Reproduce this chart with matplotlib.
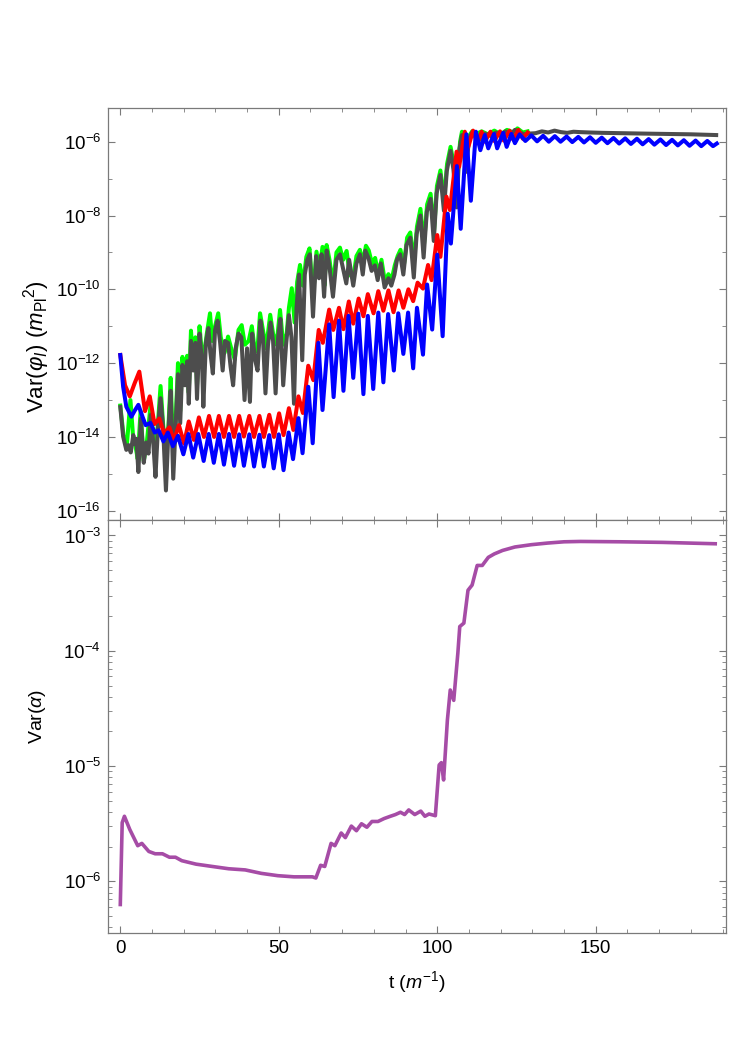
import numpy as np
import matplotlib
matplotlib.use("Agg")
from matplotlib import pyplot as plt, ticker as tick

plt.rcParams['font.family'] = ['Liberation Sans', 'DejaVu Sans']
plt.rcParams['mathtext.fontset'] = 'custom'
plt.rcParams['mathtext.rm'] = 'Liberation Sans'
plt.rcParams['mathtext.it'] = 'Liberation Sans:italic'
plt.rcParams['mathtext.bf'] = 'Liberation Sans:bold'

# values, stored as log10 of the variance
# --- top panel: Var(phi_I) ---
blue_t = [0, 0.9, 1.9, 3.5, 4.6, 5.7, 7.0, 8.0, 9.5, 10.9, 12.1, 13.6, 15.0, 16.6, 18.2, 19.9,
          21.5, 23.0, 24.6, 26.3, 27.9, 29.5, 31.1, 32.7, 34.3, 35.9, 37.5, 39.0, 40.7, 42.2,
          43.9, 45.3, 47.0, 48.4, 50.0, 51.5, 53.1, 54.5, 56.2, 57.5, 59.3, 60.7, 62.5, 63.8,
          65.9, 67.3, 69.0, 70.4, 72.0, 73.5, 75.1, 76.7, 78.1, 79.8, 81.4, 83.0, 84.5, 86.3,
          87.7, 89.3, 90.8, 92.4, 93.6, 95.5, 96.8, 98.4, 100.0, 101.7, 103.3, 104.3, 106.2,
          107.4, 109.2, 110.6, 112.2, 113.6, 115.0, 116.1, 117.9, 118.9, 120.8, 121.9, 123.4,
          124.5, 126.0, 127.8, 129.7, 131.5, 133.4, 135.2, 137.1, 138.9, 140.8, 142.6, 144.5,
          146.3, 148.2, 150.0, 151.9, 153.7, 155.6, 157.4, 159.3, 161.1, 163.0, 164.8, 166.7,
          168.5, 170.4, 172.2, 174.1, 175.9, 177.8, 179.6, 181.5, 183.3, 185.2, 187.0, 188.2]
blue_log = [-11.78, -12.64, -13.18, -13.45, -13.28, -13.13, -13.45, -13.68, -13.62, -13.88,
            -13.82, -14.12, -13.88, -14.25, -13.97, -14.47, -13.92, -14.56, -13.92, -14.65,
            -13.92, -14.70, -13.92, -14.75, -13.92, -14.78, -13.93, -14.78, -13.93, -14.80,
            -13.94, -14.80, -13.95, -14.85, -13.93, -14.90, -13.88, -14.60, -13.49, -14.44,
            -12.64, -14.17, -11.45, -13.27, -10.95, -12.92, -10.85, -12.75, -10.72, -12.40,
            -10.66, -12.84, -10.72, -12.70, -10.63, -12.52, -10.67, -12.20, -10.65, -11.75,
            -10.63, -12.14, -10.50, -11.77, -9.87, -11.09, -9.06, -11.27, -7.95, -8.76, -6.66,
            -8.36, -5.80, -7.60, -5.73, -6.23, -5.82, -6.18, -5.79, -6.18, -5.76, -6.14, -5.79,
            -6.04, -5.80, -5.98, -5.83, -5.99, -5.84, -6.00, -5.85, -6.00, -5.86, -6.01, -5.87,
            -6.02, -5.88, -6.03, -5.89, -6.04, -5.90, -6.05, -5.91, -6.06, -5.92, -6.07, -5.93,
            -6.08, -5.94, -6.09, -5.95, -6.10, -5.96, -6.11, -5.97, -6.12, -5.98, -6.12, -6.05]

red_t = [0, 1.5, 3.0, 4.5, 6.0, 7.8, 9.3, 10.8, 12.3, 13.8, 15.5, 16.9, 18.5, 20.1, 21.6, 23.2,
         24.8, 26.4, 28.0, 29.6, 31.1, 32.7, 34.3, 35.9, 37.5, 39.0, 40.7, 42.2, 43.9, 45.3,
         47.0, 48.5, 50.1, 51.5, 53.2, 54.6, 56.2, 57.6, 59.3, 60.9, 62.6, 63.9, 65.9, 67.2,
         69.0, 70.4, 72.1, 73.5, 75.2, 76.7, 78.1, 79.9, 81.4, 83.0, 84.6, 86.2, 87.8, 89.3,
         90.9, 92.4, 93.8, 95.5, 97.1, 98.2, 100.0, 101.0, 102.9, 104.0, 106.1, 106.9, 108.7,
         109.8, 111.3, 112.6, 114.0, 115.0, 116.8, 118.0, 119.8, 121.0, 122.8, 124.0, 125.6,
         127.0, 128.5]
red_log = [-11.78, -12.60, -12.90, -12.55, -12.23, -13.30, -12.90, -13.65, -13.50, -13.90,
           -13.74, -14.10, -13.68, -14.18, -13.58, -14.08, -13.47, -14.00, -13.43, -14.00,
           -13.43, -14.00, -13.43, -14.00, -13.43, -13.99, -13.43, -14.00, -13.43, -14.00,
           -13.40, -14.00, -13.36, -13.95, -13.22, -13.81, -12.90, -13.35, -12.07, -12.46,
           -11.10, -11.45, -10.55, -11.10, -10.50, -11.08, -10.33, -10.93, -10.25, -10.73,
           -10.13, -10.65, -10.05, -10.58, -10.03, -10.62, -10.03, -10.50, -10.00, -10.32,
           -9.82, -9.98, -9.34, -9.75, -8.53, -9.12, -7.49, -7.85, -6.27, -6.68, -5.73, -6.14,
           -5.70, -6.04, -5.73, -6.00, -5.73, -5.98, -5.72, -5.97, -5.70, -5.95, -5.68, -5.92,
           -5.75]

gray_t = [0, 0.9, 1.9, 2.6, 3.3, 4.1, 4.6, 5.1, 5.7, 6.5, 7.4, 8.2, 8.9, 9.6, 10.4, 11.1, 11.9,
          12.7, 13.5, 14.4, 15.2, 15.9, 16.7, 17.5, 18.2, 18.9, 19.6, 20.4, 21.1, 21.6, 22.3,
          23.0, 23.7, 24.2, 25.0, 25.8, 26.2, 27.0, 27.8, 28.4, 29.2, 29.9, 30.7, 31.5, 32.3,
          33.0, 34.0, 34.8, 35.6, 36.4, 37.3, 38.2, 39.2, 40.0, 40.9, 41.6, 42.5, 43.3, 44.2,
          45.0, 45.8, 46.6, 47.4, 48.2, 49.0, 49.8, 50.5, 51.4, 52.3, 53.2, 54.0, 54.8, 55.6,
          56.4, 57.4, 58.2, 59.0, 59.8, 60.8, 61.8, 62.7, 63.5, 64.3, 65.1, 66.0, 67.1, 68.2,
          69.3, 70.2, 71.3, 72.2, 73.5, 74.5, 75.6, 76.5, 77.3, 78.3, 79.3, 80.3, 81.2, 82.2,
          83.4, 84.6, 85.5, 86.5, 87.3, 88.3, 89.3, 90.3, 91.5, 92.6, 93.5, 94.7, 95.7, 96.7,
          97.9, 98.9, 99.8, 101.0, 102.1, 103.0, 104.2, 105.1, 106.1, 107.0, 107.8, 109.0,
          110.0, 111.0, 112.0, 113.5, 115.0, 117.0, 118.5, 120.0, 121.5, 123.0, 124.5, 126.0,
          127.5, 129.0, 131.0, 133.0, 135.0, 137.0, 139.0, 141.0, 143.0, 145.0, 148.0, 152.0,
          158.0, 165.0, 172.0, 180.0, 188.0]
gray_log = [-13.19, -13.99, -14.35, -14.22, -14.42, -13.95, -14.20, -14.05, -14.95, -13.50,
            -14.70, -14.15, -14.45, -13.40, -14.15, -15.08, -13.72, -12.95, -13.75, -15.45,
            -13.80, -12.75, -15.13, -13.60, -12.30, -13.63, -12.05, -12.60, -11.95, -13.10,
            -11.40, -12.20, -11.45, -12.97, -11.20, -12.00, -13.18, -11.45, -11.05, -11.70,
            -12.28, -11.10, -10.85, -11.45, -12.20, -11.40, -11.45, -12.10, -12.60, -11.60,
            -11.20, -11.30, -13.00, -11.60, -13.05, -11.20, -11.90, -12.20, -10.85, -11.30,
            -12.82, -11.50, -10.90, -11.40, -12.82, -11.30, -10.80, -12.60, -11.50, -10.70,
            -11.30, -13.10, -10.50, -9.60, -11.92, -9.60, -9.20, -9.05, -10.74, -9.10, -9.70,
            -9.05, -10.20, -8.95, -9.40, -10.20, -9.20, -9.05, -9.40, -9.84, -9.20, -9.90,
            -9.30, -9.05, -9.60, -8.95, -9.15, -9.50, -9.35, -9.75, -9.30, -9.95, -9.70, -9.90,
            -9.60, -9.20, -9.05, -9.60, -8.80, -8.60, -9.68, -8.50, -8.00, -9.14, -7.90, -7.55,
            -8.69, -7.40, -6.90, -7.87, -6.80, -6.25, -6.75, -7.78, -6.20, -5.82, -6.82, -5.95,
            -5.75, -5.80, -5.95, -5.78, -5.85, -5.75, -5.85, -5.72, -5.82, -5.68, -5.75, -5.80,
            -5.78, -5.77, -5.72, -5.75, -5.70, -5.74, -5.76, -5.73, -5.74, -5.75, -5.76, -5.77,
            -5.78, -5.79, -5.80, -5.82]

green_t = [0, 1.0, 2.0, 3.2, 4.0, 4.8, 5.5, 6.4, 7.4, 8.3, 9.6, 10.4, 11.1, 11.9, 12.7, 13.5,
           14.4, 15.2, 15.9, 16.7, 17.5, 18.2, 18.9, 19.6, 20.4, 21.1, 21.6, 22.3, 23.0, 23.7,
           24.2, 25.0, 25.8, 26.5, 27.3, 28.3, 29.0, 29.9, 30.9, 31.7, 32.9, 34.0, 35.0, 36.1,
           37.3, 38.3, 39.3, 40.5, 41.5, 42.5, 43.3, 44.1, 45.0, 46.0, 47.3, 48.2, 49.3, 50.4,
           51.4, 52.5, 53.2, 54.1, 55.0, 55.8, 56.7, 57.6, 58.7, 59.7, 60.8, 61.9, 62.8, 63.8,
           64.4, 65.1, 66.0, 67.1, 68.2, 69.3, 70.3, 71.4, 72.4, 73.5, 74.5, 75.6, 76.5, 77.5,
           78.4, 79.4, 80.4, 81.4, 82.4, 83.5, 84.6, 85.6, 86.6, 87.5, 88.4, 89.4, 90.5, 91.5,
           92.6, 93.6, 94.7, 95.8, 96.8, 97.9, 99.0, 99.9, 101.0, 102.1, 103.1, 104.2, 105.2,
           106.2, 107.2, 107.8, 109.0, 110.0, 111.0, 112.5, 114.0, 116.0, 118.0, 120.0, 122.0,
           124.0, 125.3, 127.0, 128.5]
green_log = [-13.15, -13.95, -14.30, -13.00, -13.95, -14.25, -14.60, -13.30, -14.65, -14.20,
             -13.10, -14.10, -14.40, -13.60, -12.62, -13.65, -14.50, -13.70, -12.40, -14.50,
             -13.50, -12.00, -13.30, -11.83, -12.50, -11.80, -12.80, -11.12, -12.00, -11.30,
             -12.60, -11.00, -11.80, -11.72, -11.20, -10.65, -11.40, -11.00, -10.65, -11.30,
             -11.72, -11.28, -11.60, -11.90, -11.10, -10.97, -11.50, -11.40, -11.00, -11.70,
             -11.60, -10.65, -11.10, -11.60, -10.69, -11.20, -11.50, -10.56, -11.50, -11.20,
             -10.50, -9.97, -10.90, -9.80, -9.34, -9.90, -9.12, -8.89, -10.20, -8.98, -9.50,
             -8.85, -9.90, -8.80, -9.20, -9.90, -9.00, -8.87, -9.20, -8.96, -9.60, -9.70, -9.10,
             -8.93, -9.30, -8.82, -8.95, -9.30, -9.15, -9.60, -9.20, -9.80, -9.59, -9.75, -9.35,
             -9.10, -8.93, -9.40, -8.60, -8.46, -9.30, -8.30, -7.82, -8.80, -7.70, -7.41, -8.40,
             -7.20, -6.78, -7.60, -6.60, -6.14, -6.60, -7.20, -6.00, -5.73, -6.40, -5.85, -5.72,
             -5.78, -5.72, -5.80, -5.70, -5.80, -5.68, -5.75, -5.64, -5.75, -5.72]

# --- bottom panel: Var(alpha) ---
alpha_t = [0, 0.6, 1.3, 3.0, 5.5, 6.8, 9.0, 11.0, 13.3, 15.5, 17.4, 19.4, 23.9, 29.0, 34.2,
           39.4, 44.5, 49.7, 54.8, 60.6, 61.7, 63.2, 64.5, 66.5, 67.7, 69.7, 71.0, 72.9, 74.5,
           76.1, 77.8, 79.4, 81.3, 83.2, 85.2, 86.8, 88.4, 89.7, 91.0, 92.9, 94.8, 96.1, 97.4,
           99.4, 100.6, 101.3, 102.0, 103.2, 104.1, 105.2, 106.5, 107.1, 108.4, 109.7, 111.0,
           112.6, 114.2, 116.1, 118.0, 120.6, 124.5, 129.7, 134.8, 140.0, 145.2, 158.0, 171.0,
           187.7]
alpha_log = [-6.20, -5.49, -5.435, -5.55, -5.69, -5.67, -5.74, -5.76, -5.76, -5.79, -5.79,
             -5.82, -5.85, -5.87, -5.89, -5.90, -5.93, -5.95, -5.96, -5.96, -5.97, -5.86, -5.87,
             -5.67, -5.69, -5.58, -5.62, -5.52, -5.56, -5.50, -5.53, -5.48, -5.48, -5.455,
             -5.435, -5.42, -5.40, -5.42, -5.38, -5.42, -5.39, -5.435, -5.415, -5.43, -4.99,
             -4.97, -5.12, -4.60, -4.34, -4.43, -4.02, -3.79, -3.76, -3.475, -3.43, -3.26, -3.26,
             -3.19, -3.16, -3.13, -3.10, -3.08, -3.066, -3.055, -3.052, -3.055, -3.06, -3.072]

W, H = 730, 1042
fig = plt.figure(figsize=(W / 100, H / 100), dpi=100)
ax1 = fig.add_axes([108 / W, 1 - 520 / H, 618 / W, 412 / H])
ax2 = fig.add_axes([108 / W, 1 - 933 / H, 618 / W, 413 / H], sharex=ax1)

lw = 2.9
ax1.plot(green_t, 10 ** np.array(green_log), color='#00ff00', lw=lw)
ax1.plot(gray_t, 10 ** np.array(gray_log), color='#4d4d4d', lw=lw)
ax1.plot(red_t, 10 ** np.array(red_log), color='#ff0000', lw=lw)
ax1.plot(blue_t, 10 ** np.array(blue_log), color='#0000ff', lw=lw)
ax2.plot(alpha_t, 10 ** np.array(alpha_log), color='#a64ca6', lw=2.6)

for ax in (ax1, ax2):
    ax.set_yscale('log')
    for s in ax.spines.values():
        s.set_color('#7a7a7a')
        s.set_linewidth(0.9)
    ax.tick_params(which='both', direction='in', top=True, right=True, color='#7a7a7a',
                   labelsize=13.5, pad=5)
    ax.tick_params(which='major', length=5)
    ax.tick_params(which='minor', length=3)

ax1.set_xlim(-3.88, 191.1)
ax1.xaxis.set_major_locator(tick.MultipleLocator(50))
ax1.xaxis.set_minor_locator(tick.MultipleLocator(10))
ax1.tick_params(axis='x', labelbottom=False)

ax1.set_ylim(10 ** -16.25, 10 ** -5.087)
ax1.yaxis.set_major_locator(tick.FixedLocator([10.0 ** e for e in range(-16, -5, 2)]))
ax1.yaxis.set_minor_locator(tick.FixedLocator([10.0 ** e for e in range(-15, -4, 2)]))
ax1.yaxis.set_major_formatter(tick.LogFormatterSciNotation())
ax1.yaxis.set_minor_formatter(tick.NullFormatter())

ax2.set_ylim(10 ** -6.447, 10 ** -2.866)
ax2.yaxis.set_major_locator(tick.LogLocator(base=10, numticks=10))
ax2.yaxis.set_minor_locator(tick.LogLocator(base=10, subs=np.arange(2, 10), numticks=20))
ax2.yaxis.set_minor_formatter(tick.NullFormatter())

fig.text(37 / W, 1 - 347 / H, r'Var($\varphi_I$) ($m_{\mathrm{Pl}}{}^{2}$)', rotation=90,
         ha='center', va='center', fontsize=16)
fig.text(38 / W, 1 - 716 / H, r'Var($\alpha$)', rotation=90, ha='center', va='center',
         fontsize=14)
fig.text(417 / W, 1 - 982 / H, r't ($m^{-1}$)', ha='center', va='center', fontsize=14)

fig.savefig('out.png', dpi=100)
